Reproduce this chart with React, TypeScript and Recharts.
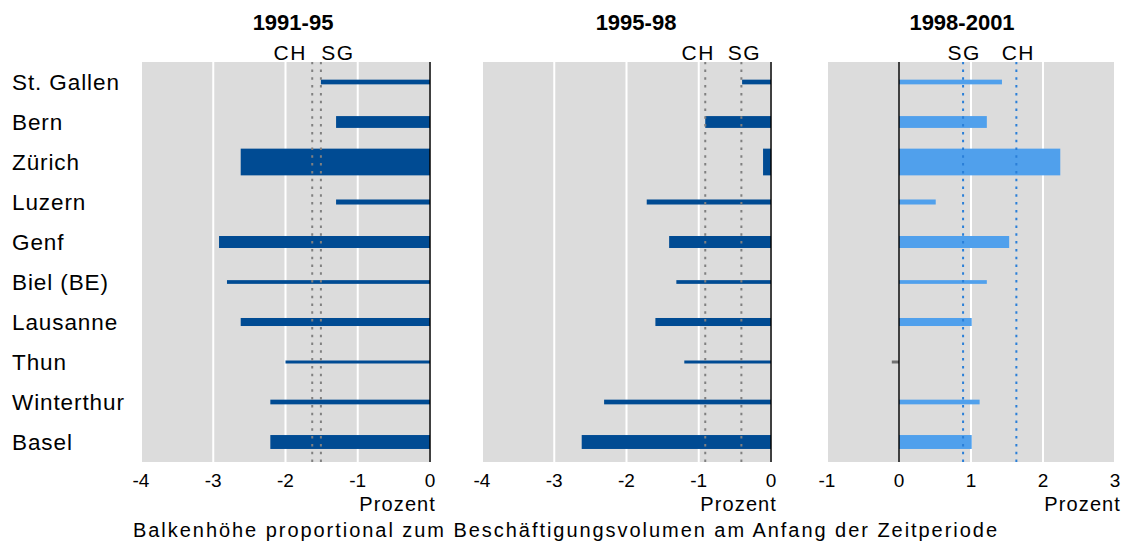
import React from 'react';
import { BarChart, Bar, XAxis, YAxis, CartesianGrid, ReferenceLine, Label } from 'recharts';

const cities = ['St. Gallen', 'Bern', 'Zürich', 'Luzern', 'Genf', 'Biel (BE)', 'Lausanne', 'Thun', 'Winterthur', 'Basel'];
// Beschäftigte in Tausend (aus den Balkenhöhen geschätzt)
const employment = [58, 146, 330, 62, 148, 46, 99, 37, 58, 172];

const change9195 = [-1.51, -1.3, -2.62, -1.3, -2.92, -2.81, -2.62, -2.0, -2.21, -2.21];
const change9598 = [-0.4, -0.91, -0.11, -1.72, -1.41, -1.31, -1.6, -1.2, -2.31, -2.62];
const change9801 = [1.43, 1.22, 2.24, 0.51, 1.53, 1.22, 1.01, -0.1, 1.12, 1.01];

const periods = ['1991-95', '1995-98', '1998-2001'];
const refCH = [-1.63, -0.91, 1.63];
const refSG = [-1.51, -0.41, 0.89];

const ticksNeg = [-4, -3, -2, -1, 0];
const ticksPos = [-1, 0, 1, 2, 3];

const FONT = '"Liberation Sans", Arial, sans-serif';
const PX_PER_K = 0.081;

const makeRows = (values: number[]) =>
  cities.map((name, i) => ({ name, v: values[i], emp: employment[i] }));

type Panel = {
  left: number;
  width: number;
  marginLeft: number;
  values: number[];
  ticks: number[];
  color: string;
  negColor?: string;
  refColor: string;
  chDx: number;
  sgDx: number;
  showCities: boolean;
};

const panels: Panel[] = [
  { left: 0, width: 441, marginLeft: 12, values: change9195, ticks: ticksNeg, color: '#004B93', refColor: '#808080', chDx: -22, sgDx: 17, showCities: true },
  { left: 462, width: 320, marginLeft: 20, values: change9598, ticks: ticksNeg, color: '#004B93', refColor: '#808080', chDx: -7, sgDx: 3, showCities: false },
  { left: 807, width: 319, marginLeft: 20, values: change9801, ticks: ticksPos, color: '#50A0EC', negColor: '#707070', refColor: '#2A7FD8', chDx: 2, sgDx: 1, showCities: false },
];

const CityTick = (props: any) => {
  const { y, payload } = props;
  return (
    <text x={12} y={y} dy="0.35em" textAnchor="start" fontSize={22.5} letterSpacing={0.9} fill="#000">
      {payload.value}
    </text>
  );
};

const refLabel = (text: string, dx: number) => (props: any) => {
  const vb = props.viewBox;
  return (
    <text x={vb.x + dx} y={vb.y - 2} textAnchor="middle" fontSize={21} letterSpacing={1.5} fill="#000">
      {text}
    </text>
  );
};

const prozentLabel = (props: any) => {
  const vb = props.viewBox;
  return (
    <text x={vb.x + vb.width + 6} y={vb.y + 49} textAnchor="end" fontSize={20} letterSpacing={1.1} fill="#000">
      Prozent
    </text>
  );
};

const PanelChart = ({ p, idx }: { p: Panel; idx: number }) => {
  const data = makeRows(p.values);
  const shape = (props: any) => {
    const { x, y, width, height, payload } = props;
    const t = payload.emp * PX_PER_K;
    const cy = y + height / 2;
    const left = width < 0 ? x + width : x;
    const fill = payload.v < 0 && p.negColor ? p.negColor : p.color;
    return <rect x={left} y={cy - t / 2} width={Math.abs(width)} height={t} fill={fill} />;
  };
  return (
    <div style={{ position: 'absolute', left: p.left, top: 0 }}>
      <BarChart
        width={p.width}
        height={549}
        data={data}
        layout="vertical"
        margin={{ top: 62, right: 11, bottom: 57, left: p.marginLeft }}
      >
        <CartesianGrid horizontal={false} fill="#DCDCDC" stroke="#FFFFFF" strokeWidth={2} />
        <XAxis
          type="number"
          domain={[p.ticks[0], p.ticks[p.ticks.length - 1]]}
          ticks={p.ticks}
          interval={0}
          axisLine={false}
          tickLine={false}
          tickMargin={6}
          height={30}
          tick={{ fill: '#000', fontSize: 19 }}
        >
          <Label content={prozentLabel} />
        </XAxis>
        <YAxis
          type="category"
          dataKey="name"
          width={p.showCities ? 129 : 0}
          hide={!p.showCities}
          axisLine={false}
          tickLine={false}
          tick={<CityTick />}
          interval={0}
        />
        <Bar dataKey="v" shape={shape} isAnimationActive={false} />
        <ReferenceLine x={refCH[idx]} stroke={p.refColor} strokeWidth={2} strokeDasharray="2.5 5.3" label={refLabel('CH', p.chDx)} />
        <ReferenceLine x={refSG[idx]} stroke={p.refColor} strokeWidth={2} strokeDasharray="2.5 5.3" label={refLabel('SG', p.sgDx)} />
        <ReferenceLine x={0} stroke="#000" strokeWidth={1.5} />
      </BarChart>
    </div>
  );
};

const titleX = [293, 636, 962];

export default function App() {
  return (
    <div style={{ position: 'absolute', left: 0, top: 0, width: 1133, height: 549, fontFamily: FONT, background: '#fff' }}>
      {panels.map((p, i) => (
        <PanelChart key={periods[i]} p={p} idx={i} />
      ))}
      <svg width={1133} height={549} style={{ position: 'absolute', left: 0, top: 0, pointerEvents: 'none' }}>
        {periods.map((t, i) => (
          <text key={t} x={titleX[i]} y={30} textAnchor="middle" fontSize={22} fontWeight="bold" fill="#000" fontFamily={FONT}>
            {t}
          </text>
        ))}
        <text x={133} y={537} textAnchor="start" fontSize={20} textLength={864} lengthAdjust="spacing" fill="#000" fontFamily={FONT}>
          Balkenhöhe proportional zum Beschäftigungsvolumen am Anfang der Zeitperiode
        </text>
      </svg>
    </div>
  );
}
